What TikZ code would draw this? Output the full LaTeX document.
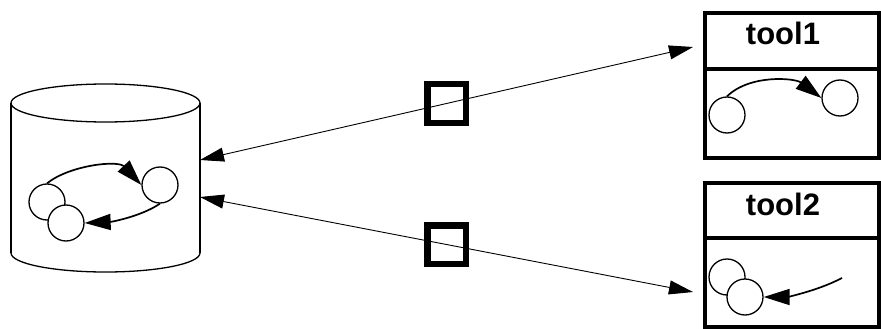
\documentclass[tikz,border=0pt]{standalone}
\usepackage{fontspec}
\setsansfont{Liberation Sans}
\usetikzlibrary{arrows.meta}

\begin{document}
\begin{tikzpicture}[
    x=1pt, y=-1pt,
    state/.style={circle, draw, fill=white, line width=1.3pt, minimum size=36pt, inner sep=0pt},
    flow/.style={line width=1.7pt, -{Triangle[length=26pt, width=16pt]}},
    link/.style={line width=0.9pt, {Triangle[length=24pt, width=14pt]}-{Triangle[length=24pt, width=14pt]}},
    token/.style={draw, line width=6.5pt, minimum size=38.5pt, inner sep=0pt},
    frame/.style={draw, line width=4pt, minimum width=174pt, inner sep=0pt, anchor=north west},
    title/.style={font=\sffamily\bfseries\fontsize{31}{33}\selectfont, anchor=base}
]
\useasboundingbox (0,0) rectangle (881,329);

% Left: repository cylinder
\draw[line width=1.3pt] (105.5,103) ellipse [x radius=94.5, y radius=19];
\draw[line width=1.6pt] (11,103) -- (11,253);
\draw[line width=1.6pt] (200,103) -- (200,253);
\draw[line width=1.3pt] (11,253) arc [start angle=180, end angle=0, x radius=94.5, y radius=19];

\node[state] (a) at (47,202) {};
\node[state] (b) at (66,223) {};
\node[state] (c) at (160,185) {};

\draw[flow] (a.north) .. controls (70,165) and (118,160) .. (c.west);
\draw[flow] (c.south) .. controls (140,217) and (110,222) .. (b.east);

\coordinate (db1) at (200,160);
\coordinate (db2) at (200,197);

% Right: tool1
\node[frame, minimum height=55.5pt] (t1head) at (703,11.5) {};
\node[frame, minimum height=88.5pt] (t1body) at (703,67) {};
\node[title] (t1name) at (783,45) {tool1};

\node[state] (d) at (727,115) {};
\node[state] (e) at (840,98) {};
\draw[flow] (d.north) .. controls (750,74) and (795,78) .. (e.west);

% Right: tool2
\node[frame, minimum height=55pt] (t2head) at (703,181) {};
\node[frame, minimum height=89pt] (t2body) at (703,236) {};
\node[title] (t2name) at (783,215) {tool2};

\node[state] (f) at (727,277) {};
\node[state] (g) at (745,297) {};
\coordinate (g0) at (842,278);
\draw[flow] (g0) .. controls (815,292) and (785,297) .. (g.east);

% Links with tokens
\coordinate (t1) at (693,47);
\coordinate (t2) at (693,292);
\draw[link] (db1) -- node[token] (tok1) {} (t1);
\draw[link] (db2) -- node[token] (tok2) {} (t2);

\end{tikzpicture}
\end{document}
